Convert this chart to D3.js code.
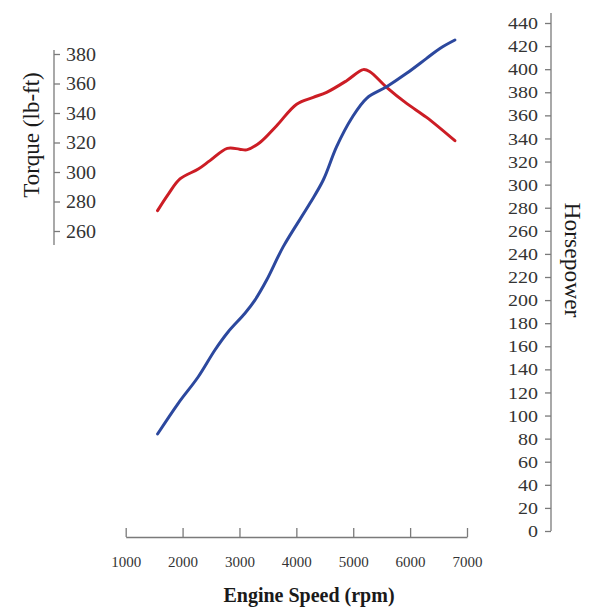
<!DOCTYPE html>
<html><head><meta charset="utf-8">
<script src="https://cdn.jsdelivr.net/npm/d3@7"></script>
<style>body{margin:0;background:#fff}svg{display:block}</style>
</head><body>
<script>
const torqueRpm = [1560, 1750, 1954, 2276, 2481, 2786, 3000, 3127, 3360, 3654, 4005, 4297, 4532, 4884, 5176, 5293, 5587, 5938, 6290, 6787];
const torque    = [273.8, 285, 295.3, 302, 307.7, 316, 315.5, 315, 320, 331.4, 346, 350.6, 354, 361.9, 369.4, 368, 357.4, 346.5, 337, 321.2];
const hpRpm = [1560, 1924, 2276, 2569, 2803, 3097, 3272, 3478, 3770, 4239, 4473, 4708, 4972, 5236, 5587, 5938, 6290, 6524, 6787];
const hp    = [84, 110.6, 133.6, 156.8, 172.6, 188.6, 200, 217.4, 246.3, 283.8, 304, 332.9, 357.5, 374.8, 384.8, 396.4, 409.4, 418, 425.3];
const xTicks = [1000, 2000, 3000, 4000, 5000, 6000, 7000];
const torqueTicks = [260, 280, 300, 320, 340, 360, 380];
const hpTicks = d3.range(0, 441, 20);

const W = 595, H = 607;
const svg = d3.select("body").append("svg").attr("width", W).attr("height", H);
const font = "'Liberation Serif','Times New Roman',serif";

const x = d3.scaleLinear().domain([1000, 7000]).range([125.7, 467]);
const yT = d3.scaleLinear().domain([260, 380]).range([231, 54]);
const yH = d3.scaleLinear().domain([0, 440]).range([531, 23]);

const axisColor = "#7a7a7a", textColor = "#333";

// X axis
const gx = svg.append("g").attr("transform", "translate(0,537)")
  .call(d3.axisTop(x).tickValues(xTicks).tickSize(9).tickSizeOuter(0).tickFormat(d3.format("d")));
gx.select(".domain").attr("stroke", axisColor).attr("stroke-width", 1.3);
gx.selectAll(".tick line").attr("stroke", axisColor).attr("stroke-width", 1.3);
gx.selectAll(".tick text").attr("y", 30).attr("dy", 0).attr("font-family", font).attr("font-size", 15).attr("fill", textColor);

// Left torque axis (labels to the right)
const gl = svg.append("g").attr("transform", "translate(54,0)")
  .call(d3.axisRight(yT).tickValues(torqueTicks).tickSize(6).tickSizeOuter(0).tickFormat(d3.format("d")));
gl.select(".domain").remove();
gl.append("line").attr("x1", 0).attr("x2", 0).attr("y1", 50).attr("y2", 245).attr("stroke", axisColor).attr("stroke-width", 1.3);
gl.selectAll(".tick line").attr("stroke", axisColor).attr("stroke-width", 1.3);
gl.selectAll(".tick text").attr("x", 12).attr("font-family", font).attr("font-size", 19).attr("fill", textColor)
  .attr("textLength", 30).attr("lengthAdjust", "spacingAndGlyphs");

// Right hp axis (labels to the left)
const gr = svg.append("g").attr("transform", "translate(551,0)")
  .call(d3.axisLeft(yH).tickValues(hpTicks).tickSize(6).tickSizeOuter(0).tickFormat(d3.format("d")));
gr.select(".domain").remove();
gr.append("line").attr("x1", 0).attr("x2", 0).attr("y1", 13).attr("y2", 531).attr("stroke", axisColor).attr("stroke-width", 1.3);
gr.selectAll(".tick line").attr("stroke", axisColor).attr("stroke-width", 1.3);
gr.selectAll(".tick text").attr("x", -13).attr("font-family", font).attr("font-size", 17.5).attr("fill", textColor)
  .attr("textLength", d => String(d).length * 10).attr("lengthAdjust", "spacingAndGlyphs");

// Lines
const lineT = d3.line().x((d, i) => x(torqueRpm[i])).y(d => yT(d)).curve(d3.curveCatmullRom.alpha(0.5));
const lineH = d3.line().x((d, i) => x(hpRpm[i])).y(d => yH(d)).curve(d3.curveCatmullRom.alpha(0.5));
svg.append("path").attr("d", lineT(torque)).attr("fill", "none").attr("stroke", "#cc1d25").attr("stroke-width", 3).attr("stroke-linecap", "round").attr("stroke-linejoin", "round");
svg.append("path").attr("d", lineH(hp)).attr("fill", "none").attr("stroke", "#2c489e").attr("stroke-width", 3).attr("stroke-linecap", "round").attr("stroke-linejoin", "round");

// Titles
svg.append("text").attr("transform", "translate(39,135) rotate(-90)").attr("text-anchor", "middle")
  .attr("font-family", font).attr("font-size", 23).attr("fill", "#1a1a1a").text("Torque (lb-ft)");
svg.append("text").attr("transform", "translate(565,260) rotate(90)").attr("text-anchor", "middle")
  .attr("font-family", font).attr("font-size", 23.5).attr("fill", "#1a1a1a").text("Horsepower");
svg.append("text").attr("x", 309).attr("y", 602).attr("text-anchor", "middle")
  .attr("font-family", font).attr("font-weight", "bold").attr("font-size", 20).attr("fill", "#1a1a1a").text("Engine Speed (rpm)");
</script>
</body></html>
